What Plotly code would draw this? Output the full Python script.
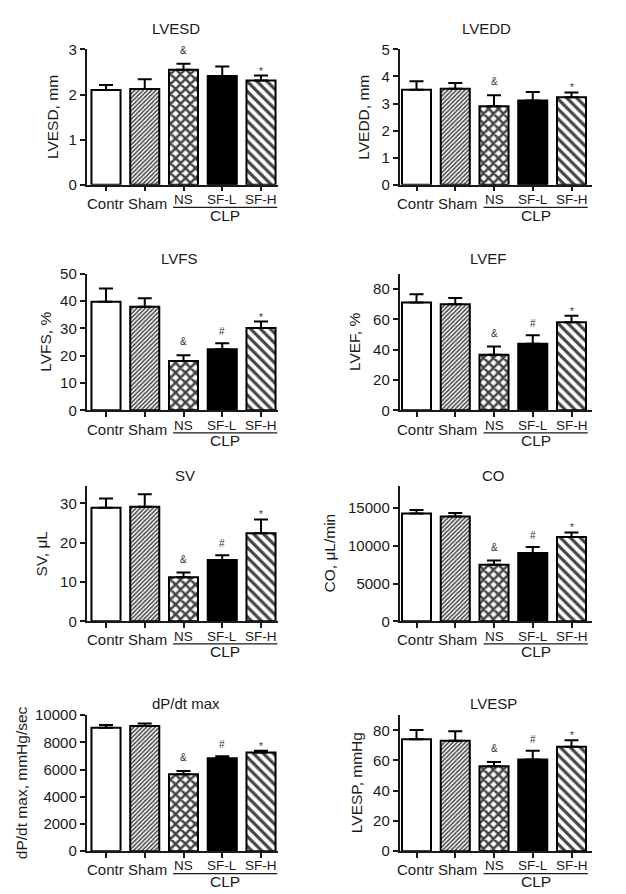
import plotly.graph_objects as go

# ---------------- data ----------------
categories = ["Contr", "Sham", "NS", "SF-L", "SF-H"]
clp_label = "CLP"

lvesd_mean = [2.10, 2.12, 2.55, 2.41, 2.31]
lvesd_err = [0.11, 0.22, 0.13, 0.21, 0.11]

lvedd_mean = [3.51, 3.55, 2.90, 3.11, 3.23]
lvedd_err = [0.31, 0.21, 0.41, 0.32, 0.18]

lvfs_mean = [39.7, 37.9, 18.1, 22.4, 30.1]
lvfs_err = [4.9, 3.1, 2.1, 2.2, 2.4]

lvef_mean = [71.0, 69.9, 36.7, 43.8, 58.1]
lvef_err = [5.4, 4.1, 5.3, 5.7, 4.3]

sv_mean = [28.9, 29.1, 11.2, 15.6, 22.4]
sv_err = [2.3, 3.2, 1.2, 1.2, 3.5]

co_mean = [14300, 13900, 7500, 9060, 11190]
co_err = [480, 480, 560, 780, 600]

dpdt_mean = [9080, 9200, 5650, 6830, 7250]
dpdt_err = [190, 190, 240, 140, 140]

lvesp_mean = [74.0, 73.1, 56.2, 60.7, 69.1]
lvesp_err = [6.2, 6.3, 2.8, 5.8, 4.3]

sig_two = ["", "", "&", "", "*"]
sig_three = ["", "", "&", "#", "*"]

panels = [
    dict(title="LVESD", ylabel="LVESD, mm", mean=lvesd_mean, err=lvesd_err, sig=sig_two, ymax=3, dtick=1),
    dict(title="LVEDD", ylabel="LVEDD, mm", mean=lvedd_mean, err=lvedd_err, sig=sig_two, ymax=5, dtick=1),
    dict(title="LVFS", ylabel="LVFS, %", mean=lvfs_mean, err=lvfs_err, sig=sig_three, ymax=50, dtick=10),
    dict(title="LVEF", ylabel="LVEF, %", mean=lvef_mean, err=lvef_err, sig=sig_three, ymax=90, dtick=20),
    dict(title="SV", ylabel="SV, \u03bcL", mean=sv_mean, err=sv_err, sig=sig_three, ymax=34.5, dtick=10),
    dict(title="CO", ylabel="CO, \u03bcL/min", mean=co_mean, err=co_err, sig=sig_three, ymax=18000, dtick=5000),
    dict(title="dP/dt max", ylabel="dP/dt max, mmHg/sec", mean=dpdt_mean, err=dpdt_err, sig=sig_three, ymax=10000, dtick=2000),
    dict(title="LVESP", ylabel="LVESP, mmHg", mean=lvesp_mean, err=lvesp_err, sig=sig_three, ymax=90, dtick=20),
]

# ---------------- styles / geometry ----------------
W, H = 626, 894
FONT = "Liberation Sans, Arial, Helvetica, sans-serif"
INK = "#1a1a1a"
fill_colors = ["white", "white", "white", "black", "white"]
pattern_shapes = ["", "/", "x", "", "\\"]
pattern_sizes = [6, 3, 7, 6, 7]
pattern_solid = [0.3, 0.5, 0.6, 0.3, 0.45]
sig_shift = {"&": 6, "#": 4, "*": -3}
label_xshift = [-1, 2.5, 0, 0, 0]

spacing = 38.75
col_geom = [dict(x0=78.5, x1=270.0, c0=98.0), dict(x0=391.5, x1=584.0, c0=408.5)]
row_geom = [(33.0, 171.0), (261.7, 401.0), (477.7, 616.0), (711.7, 850.3)]
title_px = [(168, 12), (478, 12), (171, 246), (480, 246), (177, 467), (485, 467), (178, 700), (485, 700)]
ylab_x = [44, 354.7, 36.7, 346, 33, 321, 13, 348]

fig = go.Figure()
annotations = []
shapes = []
layout_axes = {}

for i, p in enumerate(panels):
    row, col = divmod(i, 2)
    s = "" if i == 0 else str(i + 1)
    cg = col_geom[col]
    yt, yb = row_geom[row]
    xs = list(range(len(categories)))

    fig.add_trace(go.Bar(
        x=xs, y=p["mean"], width=0.75,
        xaxis="x" + s, yaxis="y" + s, showlegend=False,
        marker=dict(
            color=fill_colors,
            line=dict(color="black", width=2),
            pattern=dict(shape=pattern_shapes, fgcolor="black", bgcolor="white",
                         size=pattern_sizes, solidity=pattern_solid, fgopacity=1),
        ),
        error_y=dict(type="data", symmetric=False, array=p["err"],
                     arrayminus=[0] * len(categories), color="black", thickness=2, width=7),
    ))

    layout_axes["xaxis" + s] = dict(
        domain=[cg["x0"] / W, cg["x1"] / W],
        range=[-(cg["c0"] - cg["x0"]) / spacing, (cg["x1"] - cg["c0"]) / spacing],
        anchor="y" + s, showline=True, linecolor=INK, linewidth=1.5,
        ticks="outside", ticklen=5, tickwidth=1.5, tickcolor=INK,
        tickvals=xs, showticklabels=False, showgrid=False, zeroline=False,
    )
    layout_axes["yaxis" + s] = dict(
        domain=[1 - yb / H, 1 - yt / H], range=[0, p["ymax"]],
        anchor="x" + s, showline=True, linecolor=INK, linewidth=1.5,
        ticks="outside", ticklen=5, tickwidth=1.5, tickcolor=INK,
        tick0=0, dtick=p["dtick"], tickformat="d",
        tickfont=dict(size=15, color=INK, family=FONT),
        showgrid=False, zeroline=False,
    )

    # category labels
    for j, c in enumerate(categories):
        grp = j >= 2
        annotations.append(dict(
            text=c, xref="x" + s, x=j, xshift=label_xshift[j],
            yref="paper", y=1 - (yb + (15 if grp else 19)) / H,
            yanchor="middle", xanchor="center", showarrow=False,
            font=dict(size=13.5 if grp else 15, color=INK, family=FONT),
        ))
    shapes.append(dict(type="line", xref="x" + s, x0=1.73, x1=4.42, yref="paper",
                       y0=1 - (yb + 23) / H, y1=1 - (yb + 23) / H,
                       line=dict(color=INK, width=1.2)))
    annotations.append(dict(
        text=clp_label, xref="x" + s, x=3.075, yref="paper", y=1 - (yb + 31) / H,
        yanchor="middle", xanchor="center", showarrow=False,
        font=dict(size=15.5, color=INK, family=FONT),
    ))

    # title
    tx, ty = title_px[i]
    annotations.append(dict(
        text=p["title"], xref="paper", x=tx / W, yref="paper", y=1 - ty / H,
        xanchor="center", yanchor="middle", showarrow=False,
        font=dict(size=15, color=INK, family=FONT),
    ))
    # y label
    annotations.append(dict(
        text=p["ylabel"], xref="paper", x=ylab_x[i] / W, yref="paper", y=1 - (yt + yb) / 2 / H,
        xanchor="center", yanchor="middle", textangle=-90, showarrow=False,
        font=dict(size=15.5, color=INK, family=FONT),
    ))
    # significance marks
    for j, m in enumerate(p["sig"]):
        if m:
            annotations.append(dict(
                text=m, xref="x" + s, x=j, yref="y" + s, y=p["mean"][j] + p["err"][j],
                yanchor="bottom", xanchor="center", yshift=sig_shift[m], showarrow=False,
                font=dict(size=10, color="#333333", family=FONT),
            ))

fig.update_layout(
    width=W, height=H, margin=dict(l=0, r=0, t=0, b=0),
    paper_bgcolor="white", plot_bgcolor="white",
    font=dict(family=FONT, color=INK),
    annotations=annotations, shapes=shapes, bargap=0.2,
    **layout_axes,
)

fig.write_html("out.html")
